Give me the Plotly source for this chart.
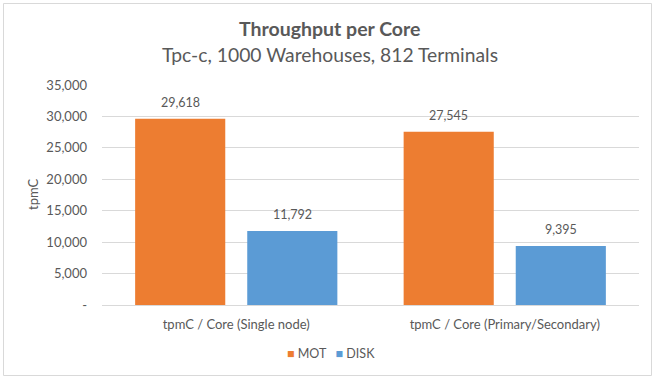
import plotly.graph_objects as go

categories = ["tpmC / Core (Single node)", "tpmC / Core (Primary/Secondary)"]
mot_values = [29618, 27545]
disk_values = [11792, 9395]
series_names = ["MOT", "DISK"]
y_tick_values = [0, 5000, 10000, 15000, 20000, 25000, 30000, 35000]
y_tick_labels = ["-", "5,000", "10,000", "15,000", "20,000", "25,000", "30,000", "35,000"]
title_text = "Throughput per Core"
subtitle_text = "Tpc-c, 1000 Warehouses, 812 Terminals"
y_title = "tpmC"

MOT_COLOR = "#ED7D31"
DISK_COLOR = "#5B9BD5"
TEXT = "#595959"
GRID = "#D9D9D9"
FONT = "Lato, 'Open Sans', sans-serif"

W, H = 659, 380
L, R, T, B = 102, 20, 85, 75
PW, PH = W - L - R, H - T - B


def px_x(px):
    return (px - L) / PW


def px_y(py):
    return (H - B - py) / PH


fig = go.Figure()
fig.add_trace(go.Bar(x=categories, y=mot_values, name=series_names[0],
                     marker=dict(color=MOT_COLOR, line=dict(width=0))))
fig.add_trace(go.Bar(x=categories, y=disk_values, name=series_names[1],
                     marker=dict(color=DISK_COLOR, line=dict(width=0))))

annotations = []
slot_offset = 56
for vals, shift in ((mot_values, -slot_offset), (disk_values, slot_offset)):
    for c, v in zip(categories, vals):
        annotations.append(dict(x=c, y=v, xref="x", yref="y", text=f"{v:,}",
                                showarrow=False, yanchor="bottom", xshift=shift,
                                yshift=7, font=dict(family=FONT, size=12.5, color=TEXT)))

annotations.append(dict(x=px_x(329), y=px_y(28.5), xref="paper", yref="paper",
                        text=f"<b>{title_text}</b>", showarrow=False,
                        xanchor="center", yanchor="middle",
                        font=dict(family=FONT, size=19.5, color=TEXT)))
annotations.append(dict(x=px_x(329.5), y=px_y(55), xref="paper", yref="paper",
                        text=subtitle_text, showarrow=False,
                        xanchor="center", yanchor="middle",
                        font=dict(family=FONT, size=19.3, color=TEXT)))
annotations.append(dict(x=px_x(33), y=px_y(195), xref="paper", yref="paper",
                        text=y_title, showarrow=False, textangle=-90,
                        xanchor="center", yanchor="middle",
                        font=dict(family=FONT, size=13, color=TEXT)))
legend_text = (f"<span style='color:{MOT_COLOR}'>■</span> {series_names[0]}"
               f"   <span style='color:{DISK_COLOR}'>■</span> {series_names[1]}")
annotations.append(dict(x=px_x(331), y=px_y(353), xref="paper", yref="paper",
                        text=legend_text, showarrow=False,
                        xanchor="center", yanchor="middle",
                        font=dict(family=FONT, size=12.5, color=TEXT)))

fig.update_layout(
    width=W, height=H,
    margin=dict(l=L, r=R, t=T, b=B),
    paper_bgcolor="white", plot_bgcolor="white",
    barmode="group", bargap=0.165, bargroupgap=0.196,
    showlegend=False,
    font=dict(family=FONT, color=TEXT),
    annotations=annotations,
    shapes=[dict(type="rect", xref="paper", yref="paper",
                 x0=px_x(3.5), x1=px_x(651.5), y0=px_y(375.5), y1=px_y(3.5),
                 line=dict(color=GRID, width=1), fillcolor="rgba(0,0,0,0)", layer="below")],
)
fig.update_xaxes(showgrid=False, showline=False, ticks="",
                 tickfont=dict(family=FONT, size=13, color=TEXT),
                 ticklabelstandoff=10)
fig.update_yaxes(range=[0, 35000], tickvals=y_tick_values, ticktext=y_tick_labels,
                 showgrid=True, gridcolor=GRID, gridwidth=1,
                 zeroline=True, zerolinecolor=GRID, zerolinewidth=1,
                 showline=False, ticks="",
                 tickfont=dict(family=FONT, size=13, color=TEXT),
                 ticklabelstandoff=14)

fig.write_html("out.html", config={"displayModeBar": False},
               post_script="document.body.style.margin='0';document.body.style.overflow='hidden';")
